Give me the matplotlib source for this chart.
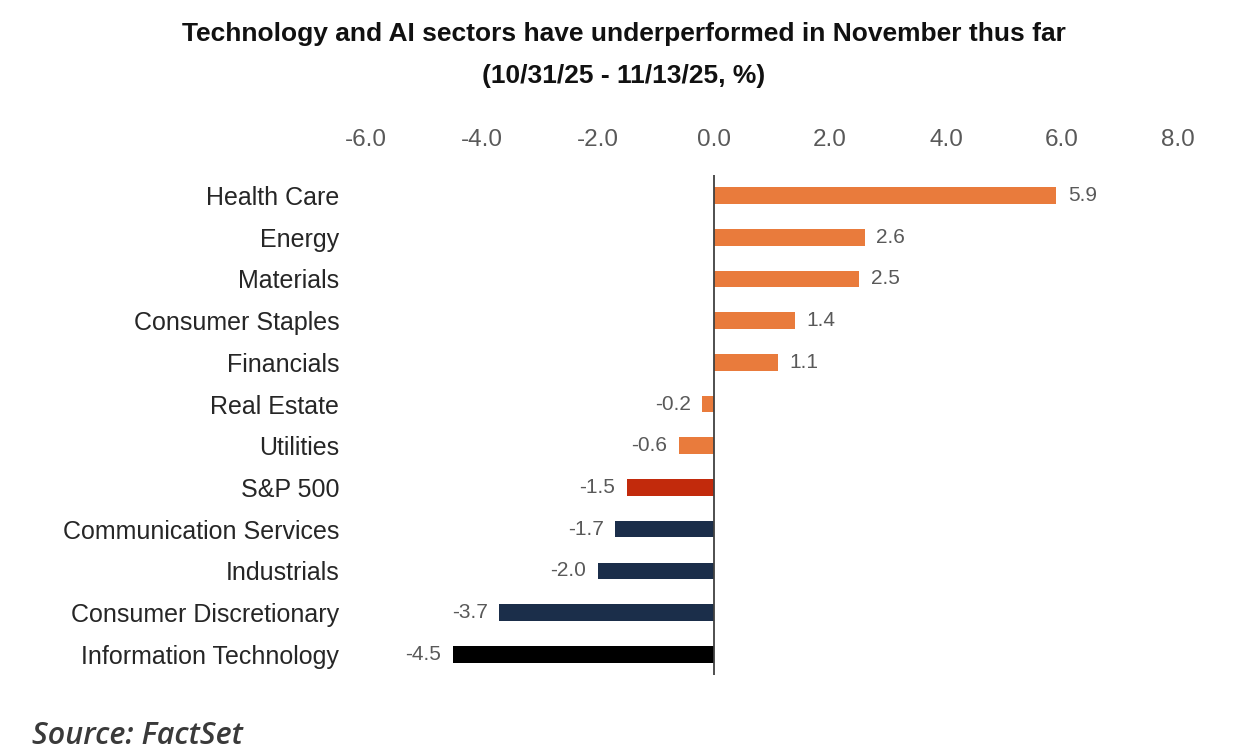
import matplotlib.pyplot as plt
import matplotlib as mpl

sectors = ['Health Care', 'Energy', 'Materials', 'Consumer Staples', 'Financials',
           'Real Estate', 'Utilities', 'S&P 500', 'Communication Services',
           'Industrials', 'Consumer Discretionary', 'Information Technology']
returns = [5.9, 2.6, 2.5, 1.4, 1.1, -0.2, -0.6, -1.5, -1.7, -2.0, -3.7, -4.5]
groups = ['up', 'up', 'up', 'up', 'up', 'up', 'up', 'index', 'down', 'down', 'down', 'it']
ticks = [-6.0, -4.0, -2.0, 0.0, 2.0, 4.0, 6.0, 8.0]

group_color = {
    'up'   : '#E97B3C',
    'index': '#C22A0C',
    'down' : '#1B2E4A',
    'it'   : '#000000'
}

grey = '#595959'
plt.rcParams['font.family'] = ['Liberation Sans', 'DejaVu Sans']

fig = plt.figure(figsize=(12.48, 7.56), dpi=100)
ax = fig.add_axes([0.293, 0.107, 0.651, 0.662])

y = list(range(len(sectors)))
colors = [group_color[g] for g in groups]
ax.barh(y, returns, height=0.4, color=colors, zorder=2)

# value labels next to the bar ends
for yi, v in zip(y, returns):
    if v >= 0:
        ax.text(v + 0.2, yi, '%.1f' % v, ha='left', va='center', fontsize=15, color=grey)
    else:
        ax.text(v - 0.2, yi, '%.1f' % v, ha='right', va='center', fontsize=15, color=grey)

ax.axvline(0, color='#404040', linewidth=1.3, zorder=3)

ax.set_xlim(-6, 8)
ax.set_ylim(11.5, -0.5)
ax.set_xticks(ticks)
ax.set_xticklabels(['%.1f' % t for t in ticks], fontsize=17.5, color=grey)
ax.xaxis.tick_top()
ax.tick_params(axis='x', length=0, pad=17)
ax.set_yticks(y)
ax.set_yticklabels(sectors, fontsize=18, color='#262626')
ax.tick_params(axis='y', length=0, pad=19)
for s in ax.spines.values():
    s.set_visible(False)

fig.text(0.5, 0.955, 'Technology and AI sectors have underperformed in November thus far',
         ha='center', va='center', fontsize=19, fontweight='bold', color='#111111')
fig.text(0.5, 0.899, '(10/31/25 - 11/13/25, %)',
         ha='center', va='center', fontsize=19, fontweight='bold', color='#111111')

fig.text(0.026, 0.027, 'Source: FactSet', ha='left', va='center', fontsize=22,
         style='italic', fontweight='semibold', color='#3A3A3A',
         family=['Open Sans', 'DejaVu Sans'])

plt.savefig('out.png', dpi=100)
plt.close()
